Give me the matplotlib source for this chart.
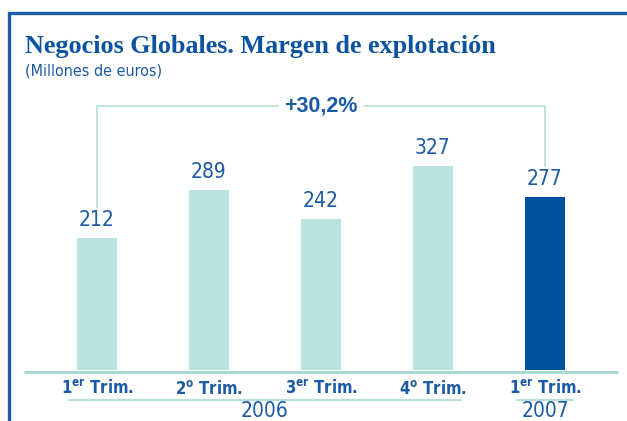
import matplotlib
matplotlib.use("Agg")
import matplotlib.pyplot as plt
from matplotlib.patches import Rectangle

# data
quarters = ["1$^{\\mathregular{er}}$ Trim.", "2$^{\\mathregular{o}}$ Trim.",
            "3$^{\\mathregular{er}}$ Trim.", "4$^{\\mathregular{o}}$ Trim.",
            "1$^{\\mathregular{er}}$ Trim."]
values = [212, 289, 242, 327, 277]
years = ["2006", "2007"]
year_groups = [(0, 3), (4, 4)]
growth_label = "+30,2%"

light = "#b9e3de"
dark = "#00529c"
line_c = "#a9dad3"
txt = "#1b5aa5"
narrow = dict(family="DejaVu Sans", stretch="condensed")

W, H = 627, 421
fig = plt.figure(figsize=(W / 100, H / 100), dpi=100)
ax = fig.add_axes([41 / W, 51 / H, 560 / W, 370 / H])
ax.set_xlim(-0.5, 4.5)
ax.set_ylim(0, 594)
ax.axis("off")
upp = 594 / 370  # data units per pixel

colors = [light] * 4 + [dark]
x = list(range(len(values)))
ax.bar(x, values, width=0.35, color=colors, zorder=3)
ax.plot([-0.65, 4.65], [-1.5 * upp, -1.5 * upp], color=line_c, lw=2.2,
        clip_on=False, zorder=2, solid_capstyle="butt")

for xi, v in zip(x, values):
    ax.annotate(str(v), (xi, v), xytext=(0, 8), textcoords="offset pixels",
                ha="center", va="bottom", fontsize=15, color=txt, **narrow)

# growth bracket
top = 424
ends = [values[0] + 50, values[-1] + 50]
ax.plot([0, 0, 4, 4], [ends[0], top, top, ends[1]], color=light, lw=1.3,
        clip_on=False, zorder=1)
ax.text(2, top, growth_label, ha="center", va="center", fontsize=15.5,
        fontweight="bold", color=txt, family=["Liberation Sans", "DejaVu Sans"],
        bbox=dict(boxstyle="square,pad=0.25", fc="white", ec="none"))

# quarter labels
for xi, q in zip(x, quarters):
    ax.text(xi, -24 * upp, q, ha="center", va="baseline", fontsize=12,
            fontweight="bold", color=txt, **narrow)

# year groups
for (a, b), yr in zip(year_groups, years):
    ax.plot([a - 0.25, b + 0.25], [-30 * upp, -30 * upp], color=line_c, lw=1.2,
            clip_on=False)
    ax.text((a + b) / 2, -47 * upp, yr, ha="center", va="baseline",
            fontsize=15, color=txt, **narrow)

# frame
fig.add_artist(Rectangle((9 / W, -0.1), 1.2, (H - 13) / H + 0.1,
                         transform=fig.transFigure, fill=False,
                         ec="#1d5ca6", lw=2.4))

fig.text(25 / W, 1 - 53 / H, "Negocios Globales. Margen de explotación",
         fontsize=18.8, fontweight="bold", color="#0b539e",
         family=["Liberation Serif", "DejaVu Serif"], va="baseline")
fig.text(25 / W, 1 - 75 / H, "(Millones de euros)", fontsize=11.5,
         color=txt, va="baseline", **narrow)

fig.savefig("out.png", dpi=100)
